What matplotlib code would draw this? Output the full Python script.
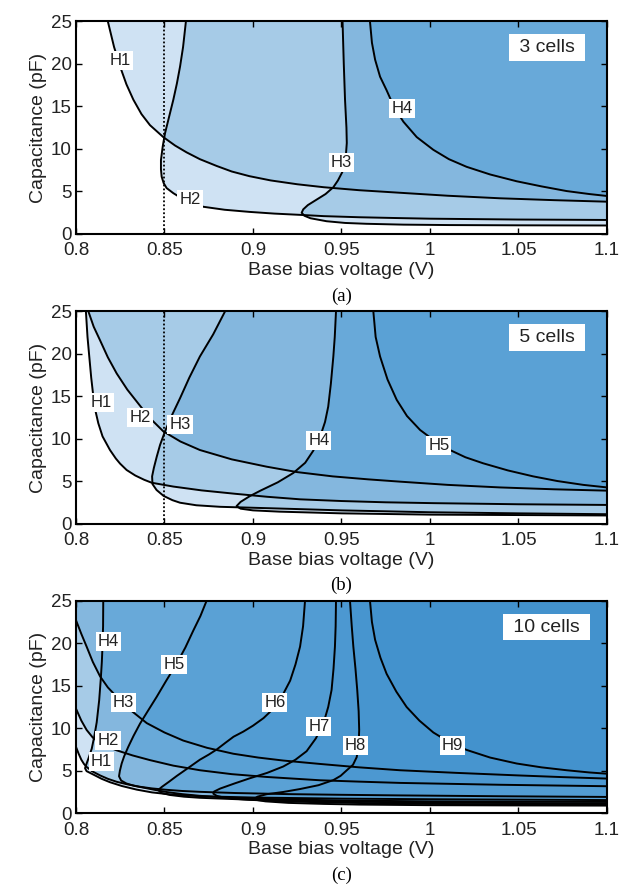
import numpy as np
import matplotlib
matplotlib.use('Agg')
import matplotlib.pyplot as plt
from matplotlib.path import Path
from matplotlib.colors import ListedColormap, BoundaryNorm

plt.rcParams['font.family'] = ['Liberation Sans', 'DejaVu Sans']

# Hopf curves, (voltage V, capacitance pF)
# panel (a), 3 cells
a_H1 = [(0.818, 25), (0.8215, 22), (0.8249, 19.7), (0.8285, 17.6), (0.8324, 15.8), (0.837, 14.1),
        (0.8418, 12.8), (0.8493, 11.4), (0.856, 10.4), (0.8625, 9.6), (0.870, 8.8), (0.8795, 8.0),
        (0.888, 7.35), (0.898, 6.8), (0.91, 6.3), (0.925, 5.85), (0.94, 5.5), (0.96, 5.15),
        (0.983, 4.85), (1.01, 4.5), (1.0395, 4.2), (1.07, 3.98), (1.1, 3.8)]
a_H2 = [(0.8621, 25), (0.8605, 22), (0.8588, 19.7), (0.857, 17.7), (0.855, 15.8), (0.8525, 13.7),
        (0.8503, 11.85), (0.849, 10.3), (0.848, 8.7), (0.848, 7.6), (0.8484, 6.74), (0.8495, 6.0),
        (0.8512, 5.4), (0.855, 4.8), (0.862, 3.9), (0.872, 3.2), (0.884, 2.85), (0.898, 2.6),
        (0.912, 2.4), (0.9266, 2.25), (0.94, 2.1), (0.96, 1.97), (0.98, 1.88), (1.0, 1.8),
        (1.05, 1.7), (1.1, 1.65)]
a_H3 = [(0.9506, 25), (0.9513, 20), (0.952, 15.8), (0.9528, 12.5), (0.953, 10.7), (0.9525, 9.3),
        (0.952, 8.5), (0.9505, 7.3), (0.948, 6.3), (0.9454, 5.5), (0.941, 4.7), (0.936, 4.05),
        (0.931, 3.4), (0.9284, 2.9), (0.9275, 2.5), (0.929, 2.15), (0.9325, 1.85), (0.9416, 1.5),
        (0.952, 1.3), (0.964, 1.2), (0.985, 1.1), (1.011, 1.05), (1.05, 1.02), (1.1, 1.0)]
a_H4 = [(0.9661, 25), (0.9672, 22.5), (0.969, 20.5), (0.9718, 18.5), (0.9755, 16.9), (0.98, 14.8),
        (0.985, 13.2), (0.9925, 11.4), (1.0019, 9.9), (1.0107, 8.8), (1.0207, 7.9), (1.034, 7.0),
        (1.049, 6.2), (1.063, 5.6), (1.0772, 5.05), (1.09, 4.7), (1.1, 4.47)]

# panel (b), 5 cells
b_H1 = [(0.8056, 25), (0.8065, 22), (0.8075, 19.7), (0.8086, 17.2), (0.8098, 15.0), (0.811, 13.3),
        (0.8126, 11.85), (0.815, 10.3), (0.8192, 8.7), (0.8225, 7.7), (0.8249, 7.1), (0.8286, 6.35),
        (0.8335, 5.7), (0.8385, 5.2), (0.8428, 4.85), (0.855, 4.4), (0.871, 3.95), (0.89, 3.55),
        (0.908, 3.2), (0.9266, 2.9), (0.95, 2.7), (0.975, 2.55), (1.0019, 2.45), (1.05, 2.32),
        (1.1, 2.24)]
b_H2 = [(0.807, 25), (0.810, 23.2), (0.8136, 21.6), (0.818, 19.6), (0.823, 17.7), (0.829, 15.8),
        (0.8362, 13.9), (0.8425, 12.3), (0.8493, 10.9), (0.859, 9.7), (0.870, 8.7), (0.888, 7.6),
        (0.9077, 6.74), (0.925, 6.1), (0.945, 5.6), (0.965, 5.25), (0.983, 4.98), (1.01, 4.6),
        (1.0395, 4.3), (1.07, 4.08), (1.1, 3.92)]
b_H3 = [(0.8842, 25), (0.8775, 22.3), (0.870, 19.7), (0.864, 17.2), (0.8588, 14.8), (0.854, 12.7),
        (0.8503, 10.9), (0.8475, 9.3), (0.8456, 7.9), (0.844, 6.6), (0.843, 5.6), (0.8432, 4.7),
        (0.8455, 4.0), (0.8495, 3.3), (0.8545, 2.8), (0.8588, 2.5), (0.868, 2.2), (0.8814, 2.02),
        (0.9096, 1.85), (0.95, 1.6), (1.0, 1.38), (1.05, 1.25), (1.1, 1.15)]
b_H4 = [(0.9469, 25), (0.9462, 22), (0.9454, 19.7), (0.944, 16.5), (0.9425, 13.8), (0.9407, 12.0),
        (0.938, 10.3), (0.934, 8.6), (0.9295, 7.2), (0.9228, 6.0), (0.914, 4.9), (0.904, 3.9),
        (0.898, 3.25), (0.893, 2.6), (0.8907, 2.1), (0.893, 1.8), (0.90, 1.6), (0.915, 1.45),
        (0.95, 1.25), (1.0, 1.1), (1.05, 1.05), (1.1, 1.0)]
b_H5 = [(0.968, 25), (0.9693, 22), (0.9718, 19.7), (0.976, 17), (0.9812, 14.6), (0.987, 12.7),
        (0.9944, 11.06), (1.0025, 9.8), (1.0113, 8.7), (1.020, 7.85), (1.030, 7.14), (1.044, 6.3),
        (1.0583, 5.6), (1.072, 5.05), (1.0866, 4.6), (1.1, 4.3)]

# panel (c), 10 cells
c_H1 = [(0.8, 7.8), (0.8015, 7.0), (0.803, 6.3), (0.8045, 5.8), (0.806, 5.45), (0.809, 4.95),
        (0.8136, 4.45), (0.818, 4.05), (0.823, 3.7), (0.829, 3.4), (0.836, 3.12), (0.843, 2.92),
        (0.851, 2.76), (0.86, 2.62), (0.87, 2.52), (0.89, 2.38), (0.92, 2.25), (0.95, 2.17),
        (0.983, 2.1), (1.04, 2.0), (1.1, 1.92)]
c_H2 = [(0.8, 12.3), (0.803, 10.9), (0.806, 9.8), (0.8095, 8.9), (0.8136, 8.25), (0.818, 7.8),
        (0.823, 7.4), (0.832, 6.8), (0.8418, 6.25), (0.855, 5.6), (0.870, 5.06), (0.888, 4.6),
        (0.9077, 4.27), (0.9379, 3.88), (0.96, 3.72), (0.983, 3.57), (1.04, 3.35), (1.1, 3.18)]
c_H3 = [(0.8, 22.7), (0.803, 21.1), (0.806, 19.6), (0.8095, 17.8), (0.8136, 16.1), (0.818, 14.8),
        (0.823, 13.7), (0.831, 12.1), (0.840, 10.6), (0.85, 9.5), (0.8606, 8.55), (0.874, 7.7),
        (0.8889, 7.0), (0.903, 6.55), (0.9171, 6.2), (0.9379, 5.8), (0.96, 5.4), (0.983, 5.06),
        (1.015, 4.75), (1.05, 4.45), (1.075, 4.25), (1.1, 4.08)]
c_H4 = [(0.8154, 25), (0.8153, 22), (0.815, 19.8), (0.8146, 17.8), (0.814, 15.8), (0.8131, 13.3),
        (0.8117, 10.7), (0.8103, 9.0), (0.8089, 7.6), (0.8073, 6.6), (0.806, 5.85), (0.8051, 5.3),
        (0.806, 4.95), (0.8098, 4.55), (0.8145, 4.05), (0.8192, 3.65), (0.826, 3.2), (0.8343, 2.78),
        (0.843, 2.45), (0.8531, 2.22), (0.87, 2.0), (0.9, 1.85), (0.95, 1.72), (1.0, 1.65),
        (1.1, 1.55)]
c_H5 = [(0.8738, 25), (0.8703, 23.2), (0.8663, 21.5), (0.8618, 19.5), (0.8569, 17.6), (0.851, 15.6),
        (0.8456, 13.7), (0.8405, 12.0), (0.8362, 10.55), (0.8325, 9.1), (0.8295, 7.8), (0.8272, 6.7),
        (0.8258, 5.85), (0.8248, 5.0), (0.8243, 4.35), (0.8255, 3.85), (0.8285, 3.5), (0.833, 3.22),
        (0.838, 3.02), (0.8445, 2.75), (0.8512, 2.5), (0.86, 2.25), (0.87, 2.05), (0.885, 1.85),
        (0.9, 1.72), (0.95, 1.5), (1.0, 1.4), (1.1, 1.33)]
c_H6 = [(0.9294, 25), (0.9283, 22), (0.9266, 19.6), (0.924, 17.5), (0.921, 15.6), (0.9165, 13.8),
        (0.9115, 12.3), (0.906, 11.2), (0.9, 10.3), (0.8945, 9.6), (0.889, 9.0), (0.8845, 8.3),
        (0.8795, 7.5), (0.875, 6.9), (0.870, 6.3), (0.8625, 5.2), (0.857, 4.4), (0.8525, 3.7),
        (0.8485, 3.1), (0.8465, 2.75), (0.848, 2.4), (0.8531, 2.15), (0.861, 1.95), (0.87, 1.82),
        (0.9, 1.58), (0.95, 1.38), (1.0, 1.25), (1.1, 1.15)]
c_H7 = [(0.9469, 25), (0.9467, 22), (0.9463, 19.6), (0.9455, 17), (0.9444, 14.5), (0.9425, 12.5),
        (0.9397, 10.5), (0.9355, 8.8), (0.9303, 7.3), (0.924, 6.3), (0.9171, 5.5), (0.908, 4.75),
        (0.898, 4.1), (0.8895, 3.5), (0.8814, 2.9), (0.878, 2.55), (0.8776, 2.3), (0.8795, 2.05),
        (0.8835, 1.85), (0.89, 1.7), (0.898, 1.58), (0.915, 1.42), (0.94, 1.28), (0.97, 1.17),
        (1.0, 1.1), (1.05, 1.04), (1.1, 1.0)]
c_H8 = [(0.9548, 25), (0.9558, 22), (0.9567, 19.6), (0.9579, 17), (0.9589, 14.5), (0.9597, 12),
        (0.960, 9.8), (0.9597, 8.0), (0.9586, 6.6), (0.9565, 5.7), (0.953, 5.06), (0.9495, 4.4),
        (0.9454, 3.9), (0.937, 3.3), (0.9266, 2.85), (0.917, 2.5), (0.9077, 2.24), (0.9025, 1.95),
        (0.9011, 1.75), (0.9025, 1.55), (0.907, 1.4), (0.92, 1.22), (0.94, 1.1), (0.96, 1.02),
        (1.0, 0.95), (1.05, 0.92), (1.1, 0.9)]
c_H9 = [(0.9661, 25), (0.9672, 22.5), (0.969, 20.4), (0.972, 18.3), (0.9755, 16.4), (0.981, 14.3),
        (0.9868, 12.5), (0.994, 10.9), (1.0019, 9.5), (1.011, 8.35), (1.0207, 7.45), (1.034, 6.55),
        (1.049, 5.85), (1.063, 5.4), (1.0772, 5.06), (1.09, 4.8), (1.1, 4.65)]

# label positions (V, C)
a_labels = [('H1', 0.8249, 20.4), ('H2', 0.8644, 4.0), ('H3', 0.950, 8.4), ('H4', 0.9842, 14.8)]
b_labels = [('H1', 0.8141, 14.3), ('H2', 0.8362, 12.5), ('H3', 0.8588, 11.7), ('H4', 0.9372, 9.8),
            ('H5', 1.005, 9.25)]
c_labels = [('H1', 0.8145, 6.1), ('H2', 0.818, 8.6), ('H3', 0.8267, 13.0), ('H4', 0.8183, 20.2),
            ('H5', 0.8554, 17.5), ('H6', 0.9123, 13.0), ('H7', 0.9372, 10.15), ('H8', 0.958, 8.0),
            ('H9', 1.0127, 7.96)]
cells = ['3 cells', '5 cells', '10 cells']
captions = ['(a)', '(b)', '(c)']

# fill colour by number of curves crossed
level_colors = ['#ffffff', '#cfe2f3', '#a6cbe7', '#84b7de', '#68a9d9', '#5aa1d5',
                '#529cd3', '#4c98d1', '#4795cf', '#4392cd']

xticks = [0.8, 0.85, 0.9, 0.95, 1.0, 1.05, 1.1]
xticklabels = ['0.8', '0.85', '0.9', '0.95', '1', '1.05', '1.1']


def inside(curve, pts):
    c = np.array(curve, dtype=float)
    poly = np.vstack([[[0.7, 30], [0.7, c[0, 1]]], c, [[1.2, c[-1, 1]], [1.2, 30]]])
    return Path(poly).contains_points(pts)


nx, ny = 900, 700
xs = 0.8 + (np.arange(nx) + 0.5) * 0.3 / nx
ys = (np.arange(ny) + 0.5) * 25 / ny
XX, YY = np.meshgrid(xs, ys)
grid = np.column_stack([XX.ravel(), YY.ravel()])

cmap = ListedColormap(level_colors)
norm = BoundaryNorm(np.arange(-0.5, len(level_colors) + 0.5), len(level_colors))

fig = plt.figure(figsize=(6.26, 8.86), dpi=100)
bottoms = [0.7359, 0.4086, 0.0821]
panels = [([a_H1, a_H2, a_H3, a_H4], a_labels, True),
          ([b_H1, b_H2, b_H3, b_H4, b_H5], b_labels, True),
          ([c_H1, c_H2, c_H3, c_H4, c_H5, c_H6, c_H7, c_H8, c_H9], c_labels, False)]

for i, (curves, labels, dotted) in enumerate(panels):
    ax = fig.add_axes([0.1214, bottoms[i], 0.8482, 0.2399])
    level = np.zeros(len(grid), dtype=int)
    for cv in curves:
        level += inside(cv, grid)
    ax.imshow(level.reshape(ny, nx), origin='lower', extent=(0.8, 1.1, 0, 25),
              aspect='auto', cmap=cmap, norm=norm, interpolation='nearest', zorder=0)
    for cv in curves:
        p = np.array(cv)
        ax.plot(p[:, 0], p[:, 1], color='black', lw=1.4, zorder=2, solid_joinstyle='round')
    if dotted:
        ax.axvline(0.85, color='black', lw=1.3, ls=(0, (1, 1.2)), zorder=2)
    for name, x, y in labels:
        ax.text(x, y, name, fontsize=12, ha='center', va='center', color='#222222', zorder=3,
                bbox=dict(boxstyle='square,pad=0.12', fc='white', ec='none'))
    ax.text(1.066, 21.9, ' ' + cells[i] + ' ', fontsize=14, ha='center', va='center',
            color='#222222', zorder=3,
            bbox=dict(boxstyle='square,pad=0.25', fc='white', ec='none'))

    ax.set_xlim(0.8, 1.1)
    ax.set_ylim(0, 25)
    ax.set_xticks(xticks)
    ax.set_xticklabels(xticklabels)
    ax.set_yticks([0, 5, 10, 15, 20, 25])
    ax.tick_params(direction='in', top=True, right=True, length=4, width=1,
                   labelsize=13.5, labelcolor='#222222')
    ax.tick_params(axis='x', pad=6)
    ax.tick_params(axis='y', pad=3)
    for sp in ax.spines.values():
        sp.set_linewidth(1.5)
    ax.set_xlabel('Base bias voltage (V)', fontsize=14, color='#222222', labelpad=2)
    ax.set_ylabel('Capacitance (pF)', fontsize=14, color='#222222', labelpad=3)

fig.text(0.5455, 0.666, captions[0], fontsize=13.5, ha='center', va='center', family='Liberation Serif')
fig.text(0.5455, 0.3397, captions[1], fontsize=13.5, ha='center', va='center', family='Liberation Serif')
fig.text(0.5455, 0.0124, captions[2], fontsize=13.5, ha='center', va='center', family='Liberation Serif')

fig.savefig('out.png', dpi=100)
